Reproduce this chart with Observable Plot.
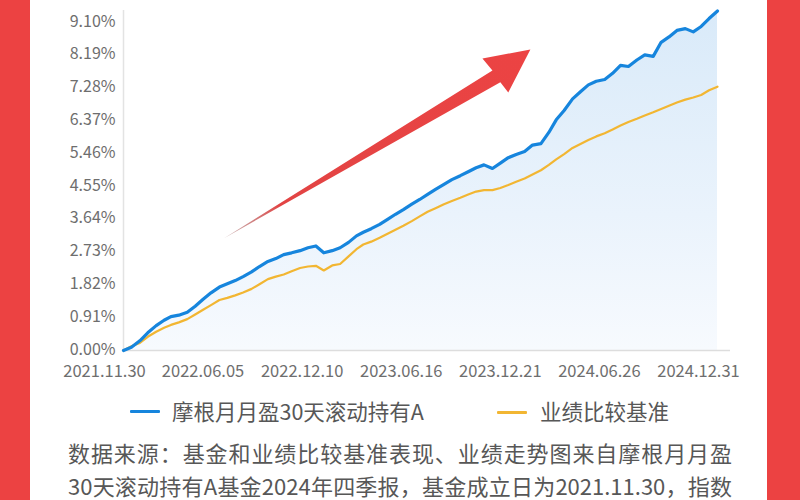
<!DOCTYPE html>
<html><head><meta charset="utf-8">
<script src="https://cdn.jsdelivr.net/npm/d3@7"></script>
<script src="https://cdn.jsdelivr.net/npm/@observablehq/plot@0.6"></script>
<style>
html,body{margin:0;padding:0;}
body{width:800px;height:500px;overflow:hidden;background:#ec4242;position:relative;font-family:"Noto Sans CJK SC",sans-serif;}
#panel{position:absolute;left:30px;top:0;width:737px;height:500px;background:#fff;}
#chart{position:absolute;left:0;top:0;width:800px;}
.sw{position:absolute;width:30px;height:3px;border-radius:1px;}
.lt{position:absolute;font-size:21.5px;line-height:1;color:#575757;white-space:nowrap;}
.src{position:absolute;left:68px;width:664px;font-size:22px;line-height:1;height:22px;color:#575757;text-align:justify;text-align-last:justify;white-space:nowrap;}
</style></head>
<body>
<div id="panel"></div>
<div id="chart"></div>
<div class="sw" id="sw1" style="left:130px;top:409.5px;"></div>
<div class="lt" id="lt1" style="left:172px;top:400px;"></div>
<div class="sw" id="sw2" style="left:497px;top:410.5px;"></div>
<div class="lt" id="lt2" style="left:540px;top:400px;"></div>
<div class="src" style="top:441px;">数据来源：基金和业绩比较基准表现、业绩走势图来自摩根月月盈</div>
<div class="src" style="top:474px;">30天滚动持有A基金2024年四季报，基金成立日为2021.11.30，指数</div>
<script>
const seriesNames = ["摩根月月盈30天滚动持有A", "业绩比较基准"];
const seriesColors = ["#1685dd", "#f2b632"];

const dates = [
  "2021-11-30","2021-12-15","2021-12-31",
  "2022-01-15","2022-01-31","2022-02-15","2022-02-28","2022-03-15","2022-03-31","2022-04-15","2022-04-30","2022-05-15","2022-05-31","2022-06-15","2022-06-30",
  "2022-07-15","2022-07-31","2022-08-15","2022-08-31","2022-09-15","2022-09-30","2022-10-15","2022-10-31","2022-11-15","2022-11-30","2022-12-15","2022-12-31",
  "2023-01-15","2023-01-31","2023-02-15","2023-02-28","2023-03-15","2023-03-31","2023-04-15","2023-04-30","2023-05-15","2023-05-31","2023-06-15","2023-06-30",
  "2023-07-15","2023-07-31","2023-08-15","2023-08-31","2023-09-15","2023-09-30","2023-10-15","2023-10-31","2023-11-15","2023-11-30","2023-12-15","2023-12-31",
  "2024-01-15","2024-01-31","2024-02-15","2024-02-29","2024-03-15","2024-03-31","2024-04-15","2024-04-30","2024-05-15","2024-05-31","2024-06-15","2024-06-30",
  "2024-07-15","2024-07-31","2024-08-15","2024-08-31","2024-09-15","2024-09-30","2024-10-15","2024-10-31","2024-11-15","2024-11-30","2024-12-15","2024-12-31"
];
const fundValues = [
  0.00,0.09,0.27,
  0.49,0.69,0.84,0.94,0.98,1.06,1.23,1.42,1.60,1.76,1.85,1.94,
  2.05,2.18,2.33,2.47,2.55,2.66,2.71,2.77,2.85,2.90,2.71,2.77,
  2.85,3.00,3.18,3.28,3.38,3.50,3.64,3.78,3.91,4.06,4.19,4.33,
  4.47,4.61,4.74,4.85,4.96,5.07,5.15,5.05,5.20,5.35,5.44,5.52,
  5.70,5.74,6.05,6.40,6.66,6.98,7.18,7.37,7.47,7.52,7.69,7.91,
  7.88,8.06,8.20,8.16,8.55,8.70,8.88,8.93,8.84,8.99,9.21,9.42
];
const benchValues = [
  0.00,0.12,0.21,
  0.38,0.52,0.63,0.71,0.78,0.87,1.00,1.13,1.26,1.40,1.46,1.53,
  1.61,1.71,1.84,1.98,2.05,2.11,2.20,2.29,2.33,2.35,2.22,2.36,
  2.40,2.61,2.81,2.94,3.02,3.13,3.24,3.35,3.46,3.59,3.72,3.85,
  3.95,4.06,4.15,4.24,4.33,4.41,4.45,4.45,4.51,4.59,4.68,4.77,
  4.88,5.00,5.15,5.30,5.45,5.62,5.73,5.84,5.94,6.03,6.13,6.24,
  6.34,6.43,6.52,6.61,6.70,6.79,6.88,6.96,7.02,7.09,7.22,7.32
];
const xTickLabels = ["2021.11.30","2022.06.05","2022.12.10","2023.06.16","2023.12.21","2024.06.26","2024.12.31"];
const yTicks = [0, 0.91, 1.82, 2.73, 3.64, 4.55, 5.46, 6.37, 7.28, 8.19, 9.10];

// decorative trend arrow (annotation outline, in data units)
const arrowDates  = ["2022-06-08","2023-10-31","2023-10-12","2024-01-11","2023-11-30","2023-11-15"];
const arrowValues = [3.11, 7.77, 8.10, 8.35, 7.16, 7.44];

const parse = d3.utcParse("%Y-%m-%d");
const parseTick = d3.utcParse("%Y.%m.%d");
const fund = dates.map((d, i) => ({date: parse(d), value: fundValues[i]}));
const bench = dates.map((d, i) => ({date: parse(d), value: benchValues[i]}));
const arrow = arrowDates.map((d, i) => ({date: parse(d), value: arrowValues[i]}));
const xTicks = xTickLabels.map(parseTick);

const gradientDefs = () => {
  const ns = "http://www.w3.org/2000/svg";
  const defs = document.createElementNS(ns, "defs");
  defs.innerHTML =
    '<linearGradient id="fundFill" x1="0" y1="0" x2="0" y2="1">' +
    '<stop offset="0" stop-color="#d9eaf9"/><stop offset="0.6" stop-color="#eaf3fc"/><stop offset="1" stop-color="#f7fafe"/></linearGradient>' +
    '<linearGradient id="arrowFill" x1="0" y1="1" x2="1" y2="0">' +
    '<stop offset="0" stop-color="#a07070" stop-opacity="0.5"/><stop offset="0.18" stop-color="#e24444"/><stop offset="1" stop-color="#ec4343"/></linearGradient>';
  return defs;
};

const chart = Plot.plot({
  width: 800,
  height: 390,
  marginLeft: 122,
  marginRight: 70,
  marginTop: 10,
  marginBottom: 40,
  style: {background: "transparent", fontSize: "16px", fontFamily: "'Noto Sans CJK SC', sans-serif", color: "#6e6e6e"},
  x: {type: "utc", domain: [fund[0].date, fund[fund.length - 1].date], range: [123, 717]},
  y: {domain: [0, 9.10], range: [350, 22]},
  marks: [
    gradientDefs,
    Plot.areaY(fund, {x: "date", y: "value", fill: "url(#fundFill)"}),
    Plot.ruleY([0], {stroke: "#dddddd", strokeWidth: 1.5}),
    Plot.ruleX([fund[0].date], {stroke: "#e3e3e3", strokeWidth: 1.5}),
    Plot.axisY({ticks: yTicks, tickFormat: d => d.toFixed(2) + "%", tickSize: 0, tickPadding: 7, dy: -1, label: null}),
    Plot.axisX({ticks: xTicks, tickFormat: d3.utcFormat("%Y.%m.%d"), tickSize: 0, tickPadding: 15, dx: -19, fontSize: 16.5, label: null}),
    Plot.line(bench, {x: "date", y: "value", stroke: seriesColors[1], strokeWidth: 2.2}),
    Plot.line(fund, {x: "date", y: "value", stroke: seriesColors[0], strokeWidth: 3.2}),
    Plot.line(arrow, {x: "date", y: "value", fill: "url(#arrowFill)", stroke: "none", curve: "linear-closed"})
  ]
});
document.getElementById("chart").appendChild(chart);
document.getElementById("sw1").style.background = seriesColors[0];
document.getElementById("sw2").style.background = seriesColors[1];
document.getElementById("lt1").textContent = seriesNames[0];
document.getElementById("lt2").textContent = seriesNames[1];
</script>
</body></html>
